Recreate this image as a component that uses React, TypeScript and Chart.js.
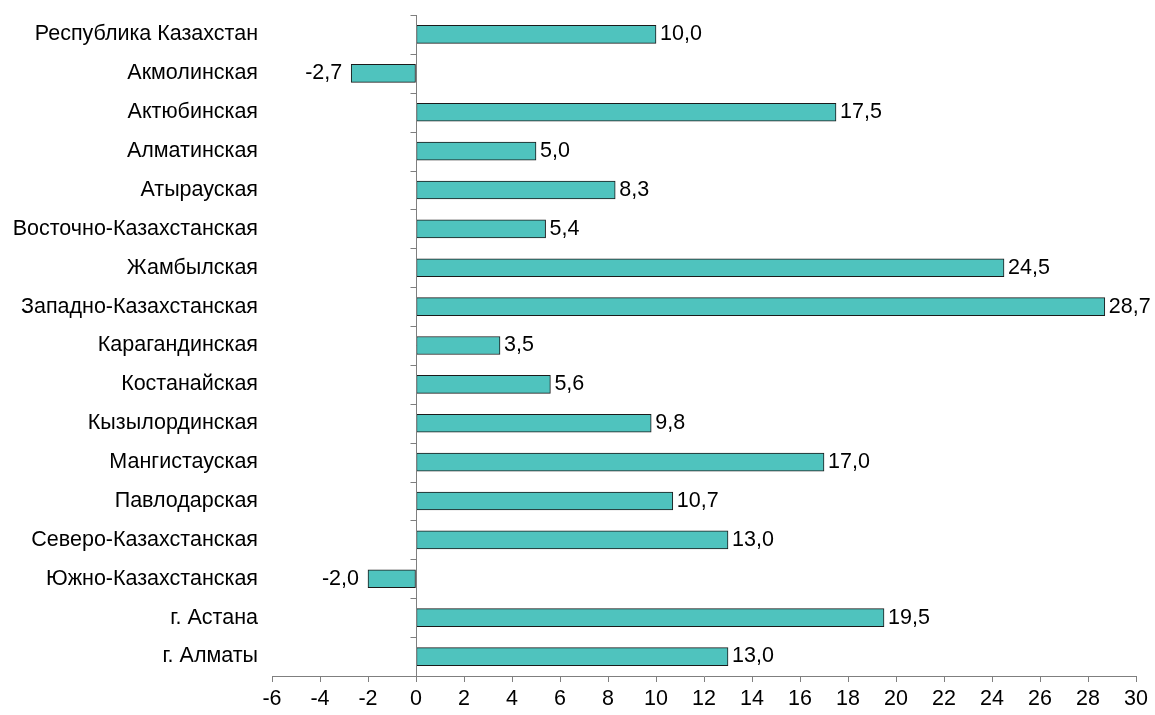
import React, { useEffect, useRef } from "react";
import { Chart, registerables } from "chart.js";

Chart.register(...registerables);

const categories = [
  "Республика Казахстан",
  "Акмолинская",
  "Актюбинская",
  "Алматинская",
  "Атырауская",
  "Восточно-Казахстанская",
  "Жамбылская",
  "Западно-Казахстанская",
  "Карагандинская",
  "Костанайская",
  "Кызылординская",
  "Мангистауская",
  "Павлодарская",
  "Северо-Казахстанская",
  "Южно-Казахстанская",
  "г. Астана",
  "г. Алматы",
];

const values = [10.0, -2.7, 17.5, 5.0, 8.3, 5.4, 24.5, 28.7, 3.5, 5.6, 9.8, 17.0, 10.7, 13.0, -2.0, 19.5, 13.0];

const xMin = -6;
const xMax = 30;
const xStep = 2;

const FONT = "Arial, 'Liberation Sans', sans-serif";
const FS = 21.5;

const fmt = (v: number) => v.toFixed(1).replace(".", ",");

const decorPlugin = {
  id: "decor",
  afterDatasetsDraw(chart: any) {
    const { ctx, scales, chartArea } = chart;
    const x = scales.x;
    const x0 = Math.round(x.getPixelForValue(0)) + 0.5;
    ctx.save();
    ctx.strokeStyle = "#7f7f7f";
    ctx.lineWidth = 1;
    ctx.beginPath();
    ctx.moveTo(x0, chartArea.top);
    ctx.lineTo(x0, chartArea.bottom);
    ctx.stroke();
    const n = categories.length;
    const step = (chartArea.bottom - chartArea.top) / n;
    for (let i = 0; i < n; i++) {
      const yy = Math.round(chartArea.top + i * step) + 0.5;
      ctx.beginPath();
      ctx.moveTo(x0 - 6, yy);
      ctx.lineTo(x0, yy);
      ctx.stroke();
    }
    ctx.fillStyle = "#000";
    ctx.font = FS + "px " + FONT;
    ctx.textBaseline = "middle";
    const meta = chart.getDatasetMeta(0);
    meta.data.forEach((bar: any, i: number) => {
      const v = values[i];
      if (v >= 0) {
        ctx.textAlign = "left";
        ctx.fillText(fmt(v), bar.x + 4, bar.y);
      } else {
        ctx.textAlign = "right";
        ctx.fillText(fmt(v), bar.x - 9, bar.y);
      }
    });
    ctx.restore();
  },
};

export default function App() {
  const ref = useRef<HTMLCanvasElement>(null);
  useEffect(() => {
    if (!ref.current) return;
    const chart = new Chart(ref.current, {
      type: "bar",
      data: {
        labels: categories,
        datasets: [
          {
            data: values,
            backgroundColor: "#4fc3be",
            borderColor: "#1a1a1a",
            borderWidth: 1,
            borderSkipped: false,
            barThickness: 18,
          },
        ],
      },
      options: {
        indexAxis: "y",
        animation: false,
        responsive: false,
        maintainAspectRatio: false,
        layout: { padding: { top: 15, right: 19, left: 0, bottom: 0 } },
        plugins: {
          legend: { display: false },
          tooltip: { enabled: false },
        },
        scales: {
          x: {
            type: "linear",
            min: xMin,
            max: xMax,
            ticks: {
              stepSize: xStep,
              color: "#000",
              font: { size: FS, family: FONT },
              padding: 4,
              maxRotation: 0,
              callback: (v: any) => String(v),
            },
            grid: {
              drawOnChartArea: false,
              drawTicks: true,
              tickLength: 6,
              color: "#7f7f7f",
            },
            border: { color: "#7f7f7f" },
            afterFit: (s: any) => {
              s.height = 39;
              s.paddingLeft = 0;
              s.paddingRight = 0;
            },
          },
          y: {
            type: "category",
            ticks: {
              color: "#000",
              font: { size: FS, family: FONT },
              padding: 14,
              autoSkip: false,
            },
            grid: { display: false, drawTicks: false },
            border: { display: false },
            afterFit: (s: any) => {
              s.width = 272;
              s.paddingTop = 0;
              s.paddingBottom = 0;
            },
          },
        },
      },
      plugins: [decorPlugin],
    });
    return () => chart.destroy();
  }, []);
  return (
    <div style={{ position: "absolute", left: 0, top: 0, width: 1155, height: 715, background: "#fff" }}>
      <canvas ref={ref} width={1155} height={715} style={{ width: 1155, height: 715 }} />
    </div>
  );
}
